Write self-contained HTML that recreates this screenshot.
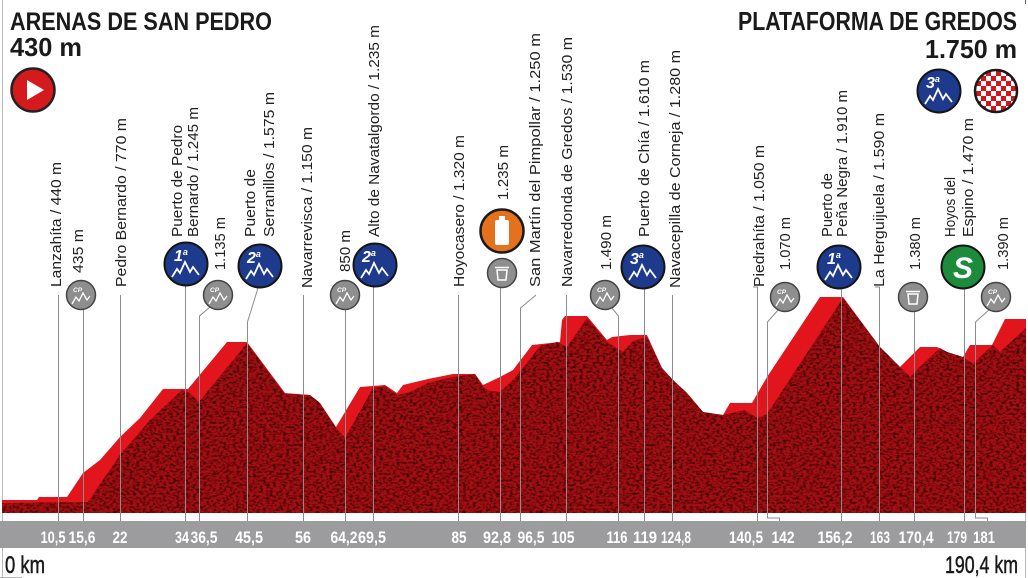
<!DOCTYPE html>
<html><head><meta charset="utf-8"><style>
html,body{margin:0;padding:0;background:#fff;}
svg{display:block;}
text{font-family:"Liberation Sans",Arial,sans-serif;}
</style></head><body>
<svg width="1028" height="578" viewBox="0 0 1028 578" xmlns="http://www.w3.org/2000/svg">
<defs>
<filter id="noise" x="0" y="0" width="100%" height="100%">
<feTurbulence type="fractalNoise" baseFrequency="0.3 0.45" numOctaves="2" seed="11" result="n"/>
<feColorMatrix in="n" type="matrix" values="0 0 0 0 0.03  0 0 0 0 0  0 0 0 0 0  0 0 0 -2.6 1.5"/>
</filter>
<clipPath id="darkclip"><polygon points="2,503 88,502 100,484 120,455 150,420 182,390 190,393 199,402 247,343 285,394 310,395 320,403 336,428 345,438 373,388 385,386 397,395 410,392 428,383 453,377 475,374 483,387 490,391 500,392 513,380 527,363 540,346 557,342 567,347 587,318 607,342 623,352 633,341 647,337 662,368 673,380 687,393 703,412 723,415 745,410 757,418 767,414 843,298 880,347 900,367 910,377 925,362 940,348 947,352 963,357 973,364 985,352 993,345 1000,352 1026,328 1026,513 2,513"/></clipPath>
<pattern id="chk" width="10" height="10" patternUnits="userSpaceOnUse" x="986" y="81"><rect width="10" height="10" fill="#fff"/><rect width="5" height="5" fill="#d4141a"/><rect x="5" y="5" width="5" height="5" fill="#d4141a"/></pattern>
</defs>

<!-- frame -->
<line x1="2.5" y1="0" x2="2.5" y2="578" stroke="#b8b8b8" stroke-width="1"/>
<line x1="0" y1="577.5" x2="22" y2="577.5" stroke="#b8b8b8" stroke-width="1"/>
<line x1="1025.5" y1="319" x2="1025.5" y2="578" stroke="#b8b8b8" stroke-width="1"/>
<line x1="1025.5" y1="0" x2="1025.5" y2="4" stroke="#666" stroke-width="1"/>

<!-- titles -->
<text x="10" y="30" font-size="25" font-weight="bold" fill="#1a1a1a" textLength="262" lengthAdjust="spacingAndGlyphs">ARENAS DE SAN PEDRO</text>
<text x="10" y="56" font-size="26" font-weight="bold" fill="#1a1a1a" textLength="72" lengthAdjust="spacingAndGlyphs">430 m</text>
<text x="1017" y="30" font-size="26" font-weight="bold" fill="#1a1a1a" text-anchor="end" textLength="279" lengthAdjust="spacingAndGlyphs">PLATAFORMA DE GREDOS</text>
<text x="1017" y="58" font-size="26" font-weight="bold" fill="#1a1a1a" text-anchor="end" textLength="92" lengthAdjust="spacingAndGlyphs">1.750 m</text>

<!-- start / finish badges -->
<g transform="translate(33,90)"><circle r="21.5" fill="#d41a1d" stroke="#222" stroke-width="2.5"/><polygon points="-6,-10 11,0 -6,10" fill="#fff"/></g>
<g transform="translate(939,91)"><circle r="21.5" fill="#1d3a8c" stroke="#151515" stroke-width="2"/><text x="-13" y="-3" font-size="16" font-style="italic" font-weight="bold" fill="#fff">3<tspan font-size="9" dy="-6">a</tspan></text><polyline points="-14,13 -9,5 -6,9 -1,-2 4,8 7,3 13,11" fill="none" stroke="#fff" stroke-width="1.8"/></g>
<circle cx="996" cy="91" r="21" fill="url(#chk)" stroke="#1a1a1a" stroke-width="2.5"/>

<!-- profile -->
<polygon points="2,500 37,500 39,497 67,497 83,473 100,460 120,437 140,418 163,389 188,389 227,342 247,342 285,393 310,395 320,403 336,427 360,387 385,385 397,393 403,385 428,379 453,374 475,374 483,385 500,377 513,370 532,345 560,342 562,320 565,316 587,316 607,340 612,337 630,335 647,335 662,368 673,380 687,393 703,412 723,415 730,403 752,403 767,377 820,297 843,297 880,347 900,367 920,347 937,347 947,352 963,357 970,345 992,345 1005,319 1026,319 1026,513 2,513" fill="#e3151c"/>
<g clip-path="url(#darkclip)">
<rect x="0" y="290" width="1028" height="225" fill="#a30f12"/>
<rect x="0" y="290" width="1028" height="225" filter="url(#noise)"/>
</g>

<!-- gray km band -->
<rect x="0" y="521" width="1026" height="27" fill="#9c9c9e"/>

<!-- connector lines -->
<g fill="none" stroke="#8c8c8c" stroke-width="1">
<path d="M58.5,295 V521"/>
<path d="M83.5,310 V521"/>
<path d="M120.5,295 V521"/>
<path d="M185.5,286 V521"/>
<path d="M210,307 L199.5,316 V521"/>
<path d="M258,288 L247.5,322 V521"/>
<path d="M303.5,295 V521"/>
<path d="M345.5,310 V521"/>
<path d="M373.5,287 V521"/>
<path d="M458.5,295 V521"/>
<path d="M500.5,288 V521"/>
<path d="M536,295 L520.5,308 V521"/>
<path d="M566.5,295 V521"/>
<path d="M612,308 L618.5,316 V521"/>
<path d="M644.5,289 V521"/>
<path d="M672.5,295 V521"/>
<path d="M753,287 H757.5 V521"/>
<path d="M779,309 L767.5,322 V518 H779.5 V521"/>
<path d="M841.5,289 V521"/>
<path d="M875,287 H879.5 V521"/>
<path d="M914.5,312 V521"/>
<path d="M964.5,289 V521"/>
<path d="M990,309 L975.5,322 V518 H987.5 V521"/>
</g>

<!-- km labels -->
<g font-size="17" font-weight="bold" fill="#fff" text-anchor="middle">
<text x="53" y="543" textLength="25" lengthAdjust="spacingAndGlyphs">10,5</text>
<text x="82" y="543" textLength="27" lengthAdjust="spacingAndGlyphs">15,6</text>
<text x="120" y="543" textLength="15" lengthAdjust="spacingAndGlyphs">22</text>
<text x="182" y="543" textLength="14" lengthAdjust="spacingAndGlyphs">34</text>
<text x="204" y="543" textLength="27" lengthAdjust="spacingAndGlyphs">36,5</text>
<text x="249" y="543" textLength="28" lengthAdjust="spacingAndGlyphs">45,5</text>
<text x="303" y="543" textLength="16" lengthAdjust="spacingAndGlyphs">56</text>
<text x="344" y="543" textLength="27" lengthAdjust="spacingAndGlyphs">64,2</text>
<text x="372" y="543" textLength="28" lengthAdjust="spacingAndGlyphs">69,5</text>
<text x="459" y="543" textLength="15" lengthAdjust="spacingAndGlyphs">85</text>
<text x="497" y="543" textLength="28" lengthAdjust="spacingAndGlyphs">92,8</text>
<text x="531" y="543" textLength="27" lengthAdjust="spacingAndGlyphs">96,5</text>
<text x="563" y="543" textLength="23" lengthAdjust="spacingAndGlyphs">105</text>
<text x="617" y="543" textLength="21" lengthAdjust="spacingAndGlyphs">116</text>
<text x="645" y="543" textLength="24" lengthAdjust="spacingAndGlyphs">119</text>
<text x="676" y="543" textLength="30" lengthAdjust="spacingAndGlyphs">124,8</text>
<text x="746" y="543" textLength="34" lengthAdjust="spacingAndGlyphs">140,5</text>
<text x="783" y="543" textLength="23" lengthAdjust="spacingAndGlyphs">142</text>
<text x="835" y="543" textLength="35" lengthAdjust="spacingAndGlyphs">156,2</text>
<text x="880" y="543" textLength="20" lengthAdjust="spacingAndGlyphs">163</text>
<text x="916" y="543" textLength="35" lengthAdjust="spacingAndGlyphs">170,4</text>
<text x="957" y="543" textLength="20" lengthAdjust="spacingAndGlyphs">179</text>
<text x="984" y="543" textLength="22" lengthAdjust="spacingAndGlyphs">181</text>
</g>

<text x="5" y="573" font-size="24" fill="#1a1a1a" stroke="#1a1a1a" stroke-width="0.5" textLength="40" lengthAdjust="spacingAndGlyphs">0 km</text>
<text x="1018" y="573" font-size="24" fill="#1a1a1a" stroke="#1a1a1a" stroke-width="0.5" text-anchor="end" textLength="73" lengthAdjust="spacingAndGlyphs">190,4 km</text>

<!-- vertical labels -->
<g font-size="15" fill="#222">
<text transform="translate(61,287) rotate(-90)" textLength="125" lengthAdjust="spacingAndGlyphs">Lanzahíta / 440 m</text>
<text transform="translate(83,273) rotate(-90)" textLength="44" lengthAdjust="spacingAndGlyphs">435 m</text>
<text transform="translate(126,287) rotate(-90)" textLength="169" lengthAdjust="spacingAndGlyphs">Pedro Bernardo / 770 m</text>
<text transform="translate(182,237) rotate(-90)" textLength="112" lengthAdjust="spacingAndGlyphs">Puerto de Pedro</text>
<text transform="translate(198,237) rotate(-90)" textLength="130" lengthAdjust="spacingAndGlyphs">Bernardo / 1.245 m</text>
<text transform="translate(225,270) rotate(-90)" textLength="53" lengthAdjust="spacingAndGlyphs">1.135 m</text>
<text transform="translate(255,237) rotate(-90)" textLength="68" lengthAdjust="spacingAndGlyphs">Puerto de</text>
<text transform="translate(274,237) rotate(-90)" textLength="145" lengthAdjust="spacingAndGlyphs">Serranillos / 1.575 m</text>
<text transform="translate(312,288) rotate(-90)" textLength="161" lengthAdjust="spacingAndGlyphs">Navarrevisca / 1.150 m</text>
<text transform="translate(350,272) rotate(-90)" textLength="42" lengthAdjust="spacingAndGlyphs">850 m</text>
<text transform="translate(379,237) rotate(-90)" textLength="212" lengthAdjust="spacingAndGlyphs">Alto de Navatalgordo / 1.235 m</text>
<text transform="translate(464,287) rotate(-90)" textLength="152" lengthAdjust="spacingAndGlyphs">Hoyocasero / 1.320 m</text>
<text transform="translate(508,200) rotate(-90)" textLength="55" lengthAdjust="spacingAndGlyphs">1.235 m</text>
<text transform="translate(540,287) rotate(-90)" textLength="254" lengthAdjust="spacingAndGlyphs">San Martín del Pimpollar / 1.250 m</text>
<text transform="translate(572,287) rotate(-90)" textLength="250" lengthAdjust="spacingAndGlyphs">Navarredonda de Gredos / 1.530 m</text>
<text transform="translate(611,270) rotate(-90)" textLength="55" lengthAdjust="spacingAndGlyphs">1.490 m</text>
<text transform="translate(649,237) rotate(-90)" textLength="177" lengthAdjust="spacingAndGlyphs">Puerto de Chía / 1.610 m</text>
<text transform="translate(680,288) rotate(-90)" textLength="238" lengthAdjust="spacingAndGlyphs">Navacepilla de Corneja / 1.280 m</text>
<text transform="translate(764,287) rotate(-90)" textLength="142" lengthAdjust="spacingAndGlyphs">Piedrahíta / 1.050 m</text>
<text transform="translate(790,270) rotate(-90)" textLength="53" lengthAdjust="spacingAndGlyphs">1.070 m</text>
<text transform="translate(832,237) rotate(-90)" textLength="64" lengthAdjust="spacingAndGlyphs">Puerto de</text>
<text transform="translate(847,237) rotate(-90)" textLength="147" lengthAdjust="spacingAndGlyphs">Peña Negra / 1.910 m</text>
<text transform="translate(884,287) rotate(-90)" textLength="174" lengthAdjust="spacingAndGlyphs">La Herguijuela / 1.590 m</text>
<text transform="translate(920,270) rotate(-90)" textLength="53" lengthAdjust="spacingAndGlyphs">1.380 m</text>
<text transform="translate(955,237) rotate(-90)" textLength="60" lengthAdjust="spacingAndGlyphs">Hoyos del</text>
<text transform="translate(973,237) rotate(-90)" textLength="119" lengthAdjust="spacingAndGlyphs">Espino / 1.470 m</text>
<text transform="translate(1008,270) rotate(-90)" textLength="53" lengthAdjust="spacingAndGlyphs">1.390 m</text>
</g>

<!-- category badges -->
<g transform="translate(186,264)"><circle r="21.5" fill="#1d3a8c" stroke="#151515" stroke-width="2"/><text x="-12" y="-3" font-size="16" font-style="italic" font-weight="bold" fill="#fff">1<tspan font-size="9" dy="-6">a</tspan></text><polyline points="-14,13 -9,5 -6,9 -1,-2 4,8 7,3 13,11" fill="none" stroke="#fff" stroke-width="1.8"/></g>
<g transform="translate(260,266)"><circle r="21.5" fill="#1d3a8c" stroke="#151515" stroke-width="2"/><text x="-13" y="-3" font-size="16" font-style="italic" font-weight="bold" fill="#fff">2<tspan font-size="9" dy="-6">a</tspan></text><polyline points="-14,13 -9,5 -6,9 -1,-2 4,8 7,3 13,11" fill="none" stroke="#fff" stroke-width="1.8"/></g>
<g transform="translate(375,265)"><circle r="21.5" fill="#1d3a8c" stroke="#151515" stroke-width="2"/><text x="-13" y="-3" font-size="16" font-style="italic" font-weight="bold" fill="#fff">2<tspan font-size="9" dy="-6">a</tspan></text><polyline points="-14,13 -9,5 -6,9 -1,-2 4,8 7,3 13,11" fill="none" stroke="#fff" stroke-width="1.8"/></g>
<g transform="translate(643,267)"><circle r="21.5" fill="#1d3a8c" stroke="#151515" stroke-width="2"/><text x="-13" y="-3" font-size="16" font-style="italic" font-weight="bold" fill="#fff">3<tspan font-size="9" dy="-6">a</tspan></text><polyline points="-14,13 -9,5 -6,9 -1,-2 4,8 7,3 13,11" fill="none" stroke="#fff" stroke-width="1.8"/></g>
<g transform="translate(839,267)"><circle r="21.5" fill="#1d3a8c" stroke="#151515" stroke-width="2"/><text x="-12" y="-3" font-size="16" font-style="italic" font-weight="bold" fill="#fff">1<tspan font-size="9" dy="-6">a</tspan></text><polyline points="-14,13 -9,5 -6,9 -1,-2 4,8 7,3 13,11" fill="none" stroke="#fff" stroke-width="1.8"/></g>

<!-- CP badges -->
<g transform="translate(81,295)"><circle r="14.5" fill="#8e8e8e" stroke="#444" stroke-width="1.5"/><text x="-8" y="-3" font-size="6.5" font-style="italic" font-weight="bold" fill="#fff">CP</text><polyline points="-9,9 -5,2 -2,6 2,-2 6,5 9,1" fill="none" stroke="#fff" stroke-width="1.3"/></g>
<g transform="translate(218,295)"><circle r="14.5" fill="#8e8e8e" stroke="#444" stroke-width="1.5"/><text x="-8" y="-3" font-size="6.5" font-style="italic" font-weight="bold" fill="#fff">CP</text><polyline points="-9,9 -5,2 -2,6 2,-2 6,5 9,1" fill="none" stroke="#fff" stroke-width="1.3"/></g>
<g transform="translate(345,295)"><circle r="14.5" fill="#8e8e8e" stroke="#444" stroke-width="1.5"/><text x="-8" y="-3" font-size="6.5" font-style="italic" font-weight="bold" fill="#fff">CP</text><polyline points="-9,9 -5,2 -2,6 2,-2 6,5 9,1" fill="none" stroke="#fff" stroke-width="1.3"/></g>
<g transform="translate(605,295)"><circle r="14.5" fill="#8e8e8e" stroke="#444" stroke-width="1.5"/><text x="-8" y="-3" font-size="6.5" font-style="italic" font-weight="bold" fill="#fff">CP</text><polyline points="-9,9 -5,2 -2,6 2,-2 6,5 9,1" fill="none" stroke="#fff" stroke-width="1.3"/></g>
<g transform="translate(785,297)"><circle r="14.5" fill="#8e8e8e" stroke="#444" stroke-width="1.5"/><text x="-8" y="-3" font-size="6.5" font-style="italic" font-weight="bold" fill="#fff">CP</text><polyline points="-9,9 -5,2 -2,6 2,-2 6,5 9,1" fill="none" stroke="#fff" stroke-width="1.3"/></g>
<g transform="translate(996,297)"><circle r="14.5" fill="#8e8e8e" stroke="#444" stroke-width="1.5"/><text x="-8" y="-3" font-size="6.5" font-style="italic" font-weight="bold" fill="#fff">CP</text><polyline points="-9,9 -5,2 -2,6 2,-2 6,5 9,1" fill="none" stroke="#fff" stroke-width="1.3"/></g>

<!-- trash badges -->
<g transform="translate(502,273)"><circle r="14.5" fill="#8e8e8e" stroke="#444" stroke-width="1.5"/><path d="M-5,-3 h10 l-1,10 h-8 z" fill="none" stroke="#fff" stroke-width="1.5"/><line x1="-7" y1="-5.5" x2="7" y2="-5.5" stroke="#fff" stroke-width="1.5"/></g>
<g transform="translate(913,297)"><circle r="14.5" fill="#8e8e8e" stroke="#444" stroke-width="1.5"/><path d="M-5,-3 h10 l-1,10 h-8 z" fill="none" stroke="#fff" stroke-width="1.5"/><line x1="-7" y1="-5.5" x2="7" y2="-5.5" stroke="#fff" stroke-width="1.5"/></g>

<!-- feed zone bottle -->
<g transform="translate(502,231)"><circle r="21.5" fill="#e5711d" stroke="#1a1a1a" stroke-width="2.5"/><rect x="-3" y="-15" width="6" height="4" fill="#fff"/><rect x="-7" y="-11" width="14" height="25" rx="2" fill="#fff"/></g>

<!-- sprint -->
<g transform="translate(963,267)"><circle r="21.5" fill="#1c8b3c" stroke="#151515" stroke-width="2"/><text x="0" y="11" font-size="30" font-weight="bold" font-style="italic" fill="#fff" text-anchor="middle">S</text></g>
</svg>
</body></html>
